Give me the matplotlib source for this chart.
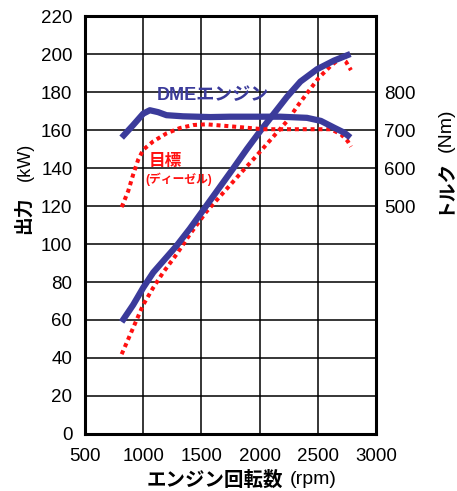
import numpy as np
import matplotlib
matplotlib.use('Agg')
import matplotlib.pyplot as plt

plt.rcParams['font.family'] = ['Liberation Sans', 'Noto Sans CJK JP', 'DejaVu Sans']

# 出力 (kW)
rpm_pw_dme = [815, 914, 1000, 1086, 1186, 1286, 1400, 1500, 1776, 1891, 2006,
              2121, 2236, 2351, 2494, 2638, 2780]
pw_dme = [59, 68, 77, 85, 92, 99, 108, 116.5, 140, 150, 159.5,
          168.5, 177.5, 185.5, 192, 196.5, 200]
rpm_pw_tgt = [815, 872, 943, 1000, 1086, 1171, 1286, 1400, 1543, 1848, 1948,
              2049, 2135, 2236, 2336, 2422, 2509, 2612, 2698, 2741, 2785]
pw_tgt = [42, 50, 60, 68, 77, 85, 94.5, 105, 117, 138, 144.7,
          151.7, 157.7, 164.7, 173.5, 180.5, 187.5, 193.8, 198, 196, 191.5]

# トルク (Nm)
rpm_tq_dme = [815, 914, 1000, 1057, 1128, 1200, 1343, 1577, 1747, 2178, 2407,
              2526, 2641, 2727, 2780]
tq_dme = [680, 713, 743, 752, 747, 739, 736, 734, 735, 735, 732,
          724, 706, 693, 680]
rpm_tq_tgt = [815, 872, 914, 957, 1000, 1086, 1200, 1314, 1428, 1543, 1776,
              2034, 2612, 2698, 2756, 2785]
tq_tgt = [497, 540, 583, 622, 648, 670, 691, 705, 713, 715, 709,
          702, 702, 689, 671, 656]

blue = '#3b3b9b'
red = '#ff1010'

fig = plt.figure(figsize=(4.57, 4.91), dpi=100)
ax = fig.add_axes([85 / 457, 1 - 434 / 491, 291 / 457, 418 / 491])
ax2 = ax.twinx()

ax.set_xlim(500, 3000)
ax.set_ylim(0, 220)
ax.set_xticks(np.arange(500, 3001, 500))
ax.set_yticks(np.arange(0, 221, 20))
ax.grid(True, color='black', lw=1.1)
ax.tick_params(length=0, labelsize=13.5, pad=9)
ax.tick_params(axis='x', pad=10)
for s in ax.spines.values():
    s.set_linewidth(2.2)

ax2.set_ylim(-100, 1000)
ax2.set_yticks([500, 600, 700, 800])
ax2.tick_params(length=0, labelsize=13.5, pad=6)
for s in ax2.spines.values():
    s.set_visible(False)

dots = (0, (1, 0.95))
ax.plot(rpm_pw_tgt, pw_tgt, color=red, lw=2.9, linestyle=dots)
ax.plot(rpm_pw_dme, pw_dme, color=blue, lw=4.5, solid_capstyle='butt',
        solid_joinstyle='round')
ax2.plot(rpm_tq_tgt, tq_tgt, color=red, lw=2.9, linestyle=dots)
ax2.plot(rpm_tq_dme, tq_dme, color=blue, lw=4.5, solid_capstyle='butt',
         solid_joinstyle='round')

ax.text(1119, 178, 'DMEエンジン', color=blue, fontsize=13, fontweight='bold',
        ha='left', va='center')
ax.text(1043, 143.4, '目標', color=red, fontsize=12, fontweight='bold',
        ha='left', va='center')
ax.text(1015, 133.9, '(ディーゼル)', color=red, fontsize=8.5, fontweight='bold',
        ha='left', va='center')

# 軸ラベル
fig.text(24 / 457, 1 - 215 / 491, '出力', rotation=90, fontsize=13.5, fontweight='bold',
         ha='center', va='center')
fig.text(25 / 457, 1 - 162 / 491, '(kW)', rotation=90, fontsize=13,
         ha='center', va='center')
fig.text(445 / 457, 1 - 186 / 491, 'トルク', rotation=90, fontsize=13.5, fontweight='bold',
         ha='center', va='center')
fig.text(446 / 457, 1 - 130 / 491, '(Nm)', rotation=90, fontsize=14,
         ha='center', va='center')
fig.text(215 / 457, 1 - 480 / 491, 'エンジン回転数', fontsize=14, fontweight='bold',
         ha='center', va='center')
fig.text(313 / 457, 1 - 480 / 491, '(rpm)', fontsize=14,
         ha='center', va='center')

fig.savefig('out.png', dpi=100)
